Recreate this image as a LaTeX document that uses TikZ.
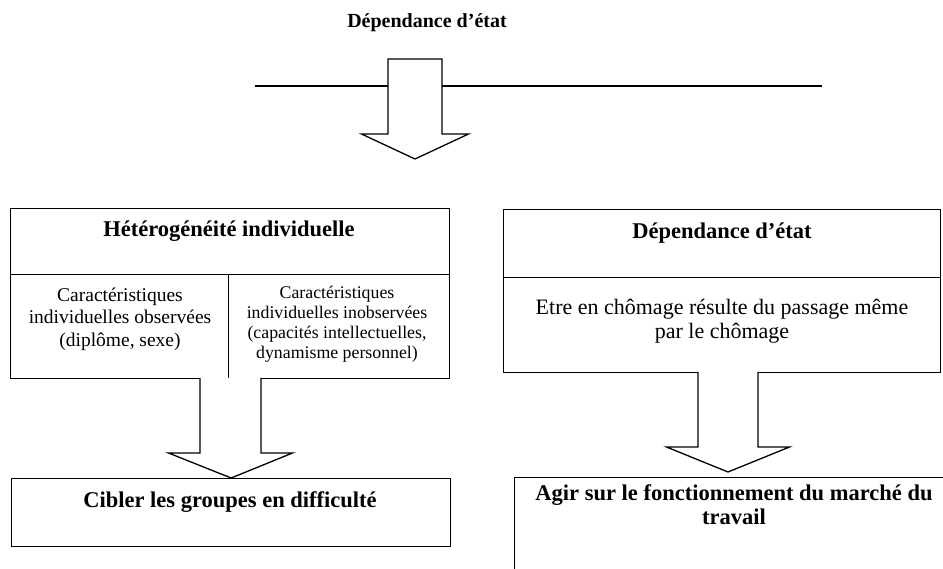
\documentclass[tikz,border=0pt]{standalone}
\usepackage{fontspec}
\setmainfont{Liberation Serif}
\usetikzlibrary{calc}
\tikzset{
  box/.style={draw, line width=1.3pt, inner sep=0pt, anchor=north west},
  barrow/.style={draw, line width=1.3pt, fill=white, line join=miter},
  hline/.style={line width=1.3pt},
  ttl/.style={font=\fontsize{22.5}{24}\selectfont\bfseries, align=center, inner sep=0pt},
  maintitle/.style={font=\fontsize{20}{22}\selectfont\bfseries, align=center, inner sep=0pt},
  bodytxt/.style={font=\fontsize{22}{24}\selectfont, align=center, inner sep=0pt},
  subA/.style={font=\fontsize{19.5}{22.5}\selectfont, align=center, inner sep=0pt},
  subB/.style={font=\fontsize{17.8}{20}\selectfont, align=center, inner sep=0pt}
}
% open block arrow from #1 (top centre) to #2 (tip); #3 shaft half width, #4 head half width, #5 head length
\newcommand\blkarrow[5]{%
  \draw[barrow] let \p1=(#1), \p2=(#2) in
    (\x1-#3,\y1) -- (\x1-#3,\y2+#5) -- (\x1-#4,\y2+#5) -- (\x2,\y2)
    -- (\x1+#4,\y2+#5) -- (\x1+#3,\y2+#5) -- (\x1+#3,\y1);}
\begin{document}
\begin{tikzpicture}[x=1pt,y=-1pt]
\useasboundingbox (0,0) rectangle (943,569);
\clip (0,0) rectangle (943,569);
\fill[white] (0,0) rectangle (943,569);

% top
\node[maintitle] (title) at (427,23) {Dépendance d’état};
\coordinate (lineL) at (255,86);
\coordinate (lineR) at (822,86);
\draw[hline] (lineL) -- (lineR);
\coordinate (topA) at (415,59);
\coordinate (topTip) at (415,159);
\draw[barrow] let \p1=(topA), \p2=(topTip) in
  (\x1-27pt,\y1) -- (\x1-27pt,\y2+25pt) -- (\x1-53.5pt,\y2+25pt) -- (\x2,\y2)
  -- (\x1+53.5pt,\y2+25pt) -- (\x1+27pt,\y2+25pt) -- (\x1+27pt,\y1) -- cycle;

% left column
\node[box, minimum width=439pt, minimum height=66pt] (L1) at (10,208) {};
\node[box, minimum width=218pt, minimum height=104pt] (L2a) at (10,274) {};
\node[box, minimum width=221pt, minimum height=104pt] (L2b) at (228,274) {};
\node[box, minimum width=439pt, minimum height=68pt] (L3) at (11,478) {};
\node[ttl] (L1t) at (229,231) {Hétérogénéité individuelle};
\node[subA] (L2at) at (120,319) {Caractéristiques\\individuelles observées\\(diplôme, sexe)};
\node[subB] (L2bt) at (337,324) {Caractéristiques\\individuelles inobservées\\(capacités intellectuelles,\\dynamisme personnel)};
\node[ttl] (L3t) at (230,502) {Cibler les groupes en difficulté};
\coordinate (Lfrom) at (230.5,378);
\blkarrow{Lfrom}{L3.north}{30.5pt}{62pt}{25pt}

% right column
\node[box, minimum width=437pt, minimum height=68pt] (R1) at (503,209) {};
\node[box, minimum width=437pt, minimum height=95pt] (R2) at (503,277) {};
\node[box, minimum width=460pt, minimum height=120pt] (R3) at (514,477) {};
\node[ttl] (R1t) at (722,233) {Dépendance d’état};
\node[bodytxt] (R2t) at (722,321) {Etre en chômage résulte du passage même\\par le chômage};
\node[ttl] (R3t) at (734,505) {Agir sur le fonctionnement du marché du\\travail};
\coordinate (Rfrom) at (728,372);
\coordinate (Rtip) at (728,472);
\blkarrow{Rfrom}{Rtip}{30pt}{61.5pt}{25pt}
\end{tikzpicture}
\end{document}
